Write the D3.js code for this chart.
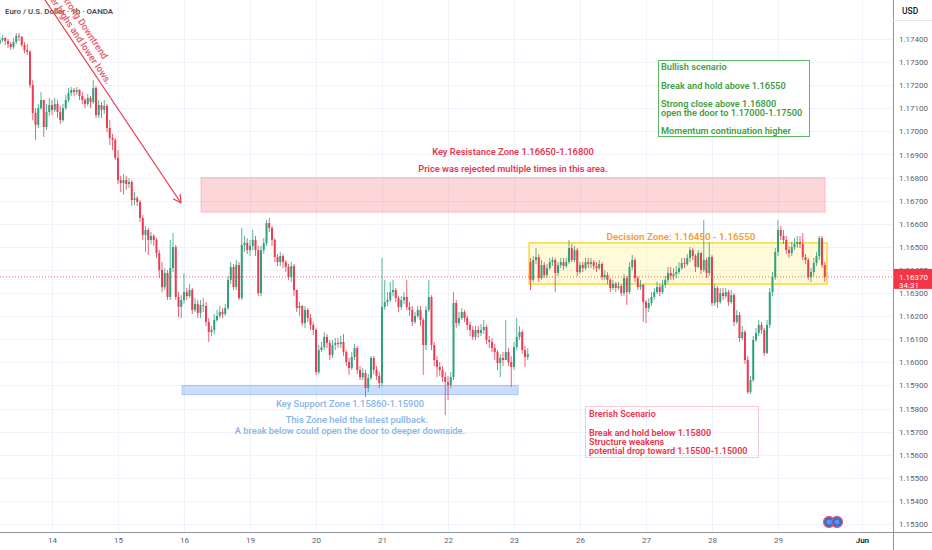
<!DOCTYPE html>
<html>
<head>
<meta charset="utf-8">
<script src="https://cdn.jsdelivr.net/npm/d3@7"></script>
<style>
  body { margin: 0; background: #fff; }
  svg { display: block; font-family: Roboto, "Open Sans", sans-serif; }
</style>
</head>
<body>
<div id="chart"></div>
<script>
// EUR/USD 1h candles (one value per hourly bar)
const closes = [
  1.17396, 1.17404, 1.17391, 1.17378, 1.17365, 1.17387, 1.17413, 1.17409, 1.17374, 1.17352,
  1.17344, 1.17201, 1.17080, 1.17028, 1.17101, 1.17136, 1.17019, 1.17084, 1.17114, 1.17093,
  1.17119, 1.17084, 1.17049, 1.17101, 1.17136, 1.17166, 1.17179, 1.17171, 1.17179, 1.17153,
  1.17136, 1.17119, 1.17145, 1.17127, 1.17188, 1.17071, 1.17114, 1.17093, 1.17110, 1.17015,
  1.16971, 1.16963, 1.16885, 1.16789, 1.16776, 1.16789, 1.16772, 1.16781, 1.16703, 1.16711,
  1.16694, 1.16625, 1.16551, 1.16573, 1.16530, 1.16547, 1.16530, 1.16473, 1.16400, 1.16326,
  1.16387, 1.16283, 1.16408, 1.16499, 1.16283, 1.16240, 1.16270, 1.16304, 1.16287, 1.16313,
  1.16227, 1.16253, 1.16214, 1.16248, 1.16244, 1.16175, 1.16131, 1.16140, 1.16183, 1.16201,
  1.16218, 1.16209, 1.16235, 1.16357, 1.16413, 1.16326, 1.16421, 1.16278, 1.16508, 1.16517,
  1.16486, 1.16504, 1.16530, 1.16486, 1.16300, 1.16486, 1.16517, 1.16603, 1.16582, 1.16530,
  1.16456, 1.16434, 1.16460, 1.16434, 1.16413, 1.16369, 1.16417, 1.16313, 1.16235, 1.16244,
  1.16170, 1.16227, 1.16192, 1.16162, 1.16140, 1.15958, 1.16053, 1.16066, 1.16110, 1.16084,
  1.16032, 1.16075, 1.16084, 1.16079, 1.16088, 1.16045, 1.16001, 1.15975, 1.16023, 1.16062,
  1.15967, 1.15936, 1.15954, 1.15889, 1.15932, 1.16019, 1.15967, 1.15941, 1.15910, 1.16240,
  1.16261, 1.16270, 1.16304, 1.16313, 1.16278, 1.16240, 1.16270, 1.16283, 1.16240, 1.16227,
  1.16175, 1.16201, 1.16227, 1.16183, 1.16075, 1.16227, 1.16283, 1.16075, 1.16010, 1.15980,
  1.15967, 1.15936, 1.15915, 1.15902, 1.15936, 1.16257, 1.16170, 1.16192, 1.16218, 1.16192,
  1.16162, 1.16140, 1.16110, 1.16140, 1.16127, 1.16140, 1.16153, 1.16097, 1.16088, 1.16062,
  1.16045, 1.15997, 1.16019, 1.16010, 1.16045, 1.16001, 1.15980, 1.16066, 1.16110, 1.16131,
  1.16053, 1.16023, 1.16036, 1.16357, 1.16443, 1.16456, 1.16365, 1.16421, 1.16378, 1.16408,
  1.16434, 1.16443, 1.16387, 1.16421, 1.16434, 1.16417, 1.16434, 1.16495, 1.16443, 1.16486,
  1.16391, 1.16421, 1.16408, 1.16434, 1.16426, 1.16434, 1.16417, 1.16408, 1.16426, 1.16369,
  1.16378, 1.16357, 1.16322, 1.16339, 1.16322, 1.16330, 1.16300, 1.16365, 1.16304, 1.16413,
  1.16443, 1.16365, 1.16326, 1.16335, 1.16261, 1.16235, 1.16257, 1.16283, 1.16304, 1.16326,
  1.16304, 1.16335, 1.16357, 1.16387, 1.16374, 1.16382, 1.16391, 1.16408, 1.16430, 1.16426,
  1.16452, 1.16486, 1.16460, 1.16413, 1.16473, 1.16400, 1.16443, 1.16387, 1.16456, 1.16257,
  1.16322, 1.16261, 1.16300, 1.16287, 1.16304, 1.16261, 1.16291, 1.16175, 1.16205, 1.16105,
  1.16131, 1.16010, 1.15871, 1.15923, 1.16097, 1.16127, 1.16162, 1.16140, 1.16040, 1.16162,
  1.16304, 1.16369, 1.16478, 1.16573, 1.16547, 1.16530, 1.16486, 1.16473, 1.16499, 1.16512,
  1.16521, 1.16512, 1.16456, 1.16443, 1.16369, 1.16391, 1.16430, 1.16460, 1.16538, 1.16421,
  1.16370
];

const highs = [
  1.17413, 1.17417, 1.17409, 1.17400, 1.17387, 1.17404, 1.17426, 1.17426, 1.17413, 1.17387,
  1.17378, 1.17352, 1.17222, 1.17101, 1.17119, 1.17171, 1.17136, 1.17119, 1.17145, 1.17136,
  1.17145, 1.17136, 1.17110, 1.17119, 1.17158, 1.17188, 1.17192, 1.17188, 1.17192, 1.17183,
  1.17171, 1.17145, 1.17162, 1.17153, 1.17222, 1.17196, 1.17136, 1.17127, 1.17136, 1.17119,
  1.17049, 1.16989, 1.16971, 1.16919, 1.16807, 1.16815, 1.16807, 1.16798, 1.16789, 1.16737,
  1.16720, 1.16703, 1.16638, 1.16590, 1.16582, 1.16564, 1.16556, 1.16538, 1.16486, 1.16434,
  1.16408, 1.16400, 1.16530, 1.16560, 1.16508, 1.16304, 1.16291, 1.16387, 1.16322, 1.16339,
  1.16322, 1.16278, 1.16270, 1.16270, 1.16278, 1.16261, 1.16192, 1.16157, 1.16209, 1.16227,
  1.16244, 1.16235, 1.16253, 1.16374, 1.16434, 1.16426, 1.16443, 1.16434, 1.16582, 1.16547,
  1.16538, 1.16530, 1.16573, 1.16547, 1.16504, 1.16504, 1.16538, 1.16616, 1.16625, 1.16590,
  1.16538, 1.16469, 1.16478, 1.16469, 1.16443, 1.16426, 1.16434, 1.16426, 1.16313, 1.16261,
  1.16248, 1.16244, 1.16235, 1.16209, 1.16175, 1.16149, 1.16075, 1.16088, 1.16131, 1.16123,
  1.16097, 1.16097, 1.16105, 1.16105, 1.16114, 1.16123, 1.16053, 1.16019, 1.16045, 1.16079,
  1.16071, 1.15984, 1.15975, 1.15967, 1.15949, 1.16027, 1.16027, 1.15984, 1.15958, 1.16452,
  1.16357, 1.16304, 1.16348, 1.16357, 1.16322, 1.16287, 1.16287, 1.16304, 1.16357, 1.16261,
  1.16244, 1.16218, 1.16244, 1.16244, 1.16192, 1.16244, 1.16357, 1.16291, 1.16088, 1.16027,
  1.16001, 1.15984, 1.15958, 1.15941, 1.15958, 1.16304, 1.16270, 1.16218, 1.16235, 1.16227,
  1.16201, 1.16175, 1.16157, 1.16157, 1.16157, 1.16166, 1.16183, 1.16162, 1.16114, 1.16105,
  1.16079, 1.16053, 1.16036, 1.16045, 1.16183, 1.16062, 1.16027, 1.16088, 1.16192, 1.16157,
  1.16140, 1.16071, 1.16062, 1.16452, 1.16460, 1.16495, 1.16469, 1.16443, 1.16434, 1.16426,
  1.16452, 1.16456, 1.16452, 1.16434, 1.16452, 1.16452, 1.16452, 1.16530, 1.16512, 1.16504,
  1.16495, 1.16434, 1.16434, 1.16452, 1.16452, 1.16452, 1.16443, 1.16434, 1.16443, 1.16434,
  1.16400, 1.16391, 1.16365, 1.16357, 1.16348, 1.16348, 1.16339, 1.16382, 1.16374, 1.16434,
  1.16465, 1.16452, 1.16374, 1.16357, 1.16339, 1.16270, 1.16278, 1.16304, 1.16322, 1.16348,
  1.16339, 1.16357, 1.16374, 1.16413, 1.16413, 1.16408, 1.16417, 1.16434, 1.16452, 1.16452,
  1.16469, 1.16499, 1.16495, 1.16469, 1.16486, 1.16478, 1.16616, 1.16452, 1.16521, 1.16465,
  1.16339, 1.16330, 1.16322, 1.16322, 1.16322, 1.16313, 1.16313, 1.16300, 1.16227, 1.16218,
  1.16157, 1.16140, 1.16027, 1.15941, 1.16114, 1.16149, 1.16183, 1.16175, 1.16149, 1.16183,
  1.16322, 1.16391, 1.16495, 1.16616, 1.16590, 1.16573, 1.16547, 1.16504, 1.16521, 1.16538,
  1.16547, 1.16547, 1.16560, 1.16469, 1.16452, 1.16408, 1.16452, 1.16478, 1.16547, 1.16547,
  1.16434
];

const lows = [
  1.17378, 1.17387, 1.17374, 1.17361, 1.17352, 1.17357, 1.17378, 1.17391, 1.17365, 1.17339,
  1.17331, 1.17188, 1.17049, 1.16963, 1.17015, 1.17093, 1.16976, 1.17006, 1.17067, 1.17071,
  1.17084, 1.17058, 1.17032, 1.17041, 1.17093, 1.17127, 1.17153, 1.17153, 1.17158, 1.17136,
  1.17119, 1.17101, 1.17110, 1.17101, 1.17119, 1.17058, 1.17058, 1.17058, 1.17075, 1.16997,
  1.16941, 1.16919, 1.16876, 1.16772, 1.16737, 1.16725, 1.16746, 1.16755, 1.16677, 1.16681,
  1.16677, 1.16608, 1.16530, 1.16478, 1.16465, 1.16512, 1.16504, 1.16452, 1.16365, 1.16304,
  1.16313, 1.16270, 1.16270, 1.16391, 1.16270, 1.16196, 1.16192, 1.16253, 1.16270, 1.16278,
  1.16209, 1.16218, 1.16192, 1.16192, 1.16218, 1.16157, 1.16088, 1.16114, 1.16123, 1.16175,
  1.16192, 1.16192, 1.16201, 1.16227, 1.16339, 1.16313, 1.16313, 1.16270, 1.16270, 1.16478,
  1.16469, 1.16460, 1.16486, 1.16460, 1.16287, 1.16287, 1.16469, 1.16504, 1.16564, 1.16504,
  1.16434, 1.16417, 1.16417, 1.16408, 1.16391, 1.16357, 1.16348, 1.16287, 1.16218, 1.16201,
  1.16157, 1.16149, 1.16175, 1.16140, 1.16118, 1.15945, 1.15949, 1.16045, 1.16053, 1.16062,
  1.16010, 1.16019, 1.16053, 1.16062, 1.16062, 1.16027, 1.15984, 1.15945, 1.15967, 1.16010,
  1.15949, 1.15923, 1.15923, 1.15850, 1.15871, 1.15923, 1.15949, 1.15923, 1.15889, 1.15897,
  1.16227, 1.16244, 1.16261, 1.16287, 1.16261, 1.16218, 1.16227, 1.16253, 1.16227, 1.16201,
  1.16157, 1.16166, 1.16192, 1.16157, 1.15945, 1.16053, 1.16218, 1.16053, 1.15984, 1.15936,
  1.15941, 1.15915, 1.15772, 1.15837, 1.15889, 1.15923, 1.16149, 1.16157, 1.16183, 1.16175,
  1.16140, 1.16114, 1.16097, 1.16097, 1.16105, 1.16114, 1.16123, 1.16079, 1.16062, 1.16045,
  1.16010, 1.15967, 1.15936, 1.15984, 1.16010, 1.15984, 1.15893, 1.15967, 1.16053, 1.16097,
  1.16036, 1.15980, 1.16010, 1.16313, 1.16348, 1.16426, 1.16348, 1.16357, 1.16365, 1.16365,
  1.16400, 1.16417, 1.16304, 1.16374, 1.16408, 1.16400, 1.16408, 1.16426, 1.16434, 1.16434,
  1.16374, 1.16382, 1.16391, 1.16400, 1.16408, 1.16408, 1.16400, 1.16391, 1.16400, 1.16357,
  1.16357, 1.16339, 1.16304, 1.16313, 1.16304, 1.16313, 1.16287, 1.16287, 1.16248, 1.16296,
  1.16400, 1.16348, 1.16313, 1.16313, 1.16175, 1.16170, 1.16218, 1.16244, 1.16270, 1.16296,
  1.16287, 1.16296, 1.16322, 1.16343, 1.16357, 1.16357, 1.16365, 1.16382, 1.16400, 1.16408,
  1.16417, 1.16434, 1.16443, 1.16391, 1.16408, 1.16382, 1.16391, 1.16365, 1.16374, 1.16244,
  1.16244, 1.16235, 1.16253, 1.16270, 1.16278, 1.16244, 1.16253, 1.16157, 1.16166, 1.16088,
  1.16097, 1.15993, 1.15863, 1.15863, 1.15915, 1.16088, 1.16114, 1.16123, 1.16027, 1.16036,
  1.16149, 1.16287, 1.16357, 1.16460, 1.16530, 1.16512, 1.16469, 1.16452, 1.16460, 1.16486,
  1.16495, 1.16495, 1.16443, 1.16426, 1.16357, 1.16348, 1.16374, 1.16417, 1.16443, 1.16408,
  1.16348
];

// bars where the open is not the previous close (first bar, weekend gap)
const sessionOpens = { 0: 1.17380, 193: 1.16434 };

const dayLabels = ["14", "15", "16", "19", "20", "21", "22", "23", "26", "27", "28", "29", "Jun"];
const dayBars = [19, 43, 67, 91, 115, 139, 163, 187, 211, 235, 259, 283, 313.5];

const priceTicks = [1.174, 1.173, 1.172, 1.171, 1.170, 1.169, 1.168, 1.167, 1.166, 1.165, 1.164,
  1.163, 1.162, 1.161, 1.160, 1.159, 1.158, 1.157, 1.156, 1.155, 1.154, 1.153];

const lastPrice = 1.16370;
const countdown = "34:31";

const resistance = [1.16650, 1.16800];
const decision = [1.16339, 1.16517];
const support = [1.15860, 1.15900];

const width = 932;
const height = 550;
const plotRight = 893;
const plotBottom = 532;
const upColor = "#2fa27c";
const downColor = "#ec3b52";

const svg = d3.select("#chart").append("svg")
    .attr("width", width)
    .attr("height", height);

const x = d3.scaleLinear().domain([0, 300]).range([-0.25, 824.75]);
const y = d3.scaleLinear().domain([1.153, 1.174]).range([524, 39]);

svg.append("defs").append("clipPath").attr("id", "plot")
    .append("rect").attr("width", plotRight).attr("height", plotBottom);

// grid
const grid = svg.append("g").attr("clip-path", "url(#plot)");
grid.selectAll(".hg").data(priceTicks).enter().append("line")
    .attr("x1", 0).attr("x2", plotRight)
    .attr("y1", d => Math.round(y(d)) + 0.5).attr("y2", d => Math.round(y(d)) + 0.5)
    .attr("stroke", "#f0f3fa");
grid.selectAll(".vg").data(dayBars).enter().append("line")
    .attr("y1", 0).attr("y2", plotBottom)
    .attr("x1", d => Math.round(x(d)) + 0.5).attr("x2", d => Math.round(x(d)) + 0.5)
    .attr("stroke", "#f0f3fa");

// zones (drawn under the candles)
const zones = svg.append("g").attr("clip-path", "url(#plot)");
zones.append("rect")
    .attr("x", x(73.2)).attr("width", x(300.1) - x(73.2))
    .attr("y", y(resistance[1])).attr("height", y(resistance[0]) - y(resistance[1]))
    .attr("fill", "rgba(242,54,69,0.2)").attr("stroke", "rgba(242,54,69,0.25)");
zones.append("rect")
    .attr("x", x(192.5)).attr("width", x(300.8) - x(192.5))
    .attr("y", y(decision[1])).attr("height", y(decision[0]) - y(decision[1]))
    .attr("fill", "rgba(255,235,59,0.2)").attr("stroke", "#f7d83c").attr("stroke-width", 1.5);
zones.append("rect")
    .attr("x", x(66.3)).attr("width", x(188.5) - x(66.3))
    .attr("y", y(support[1])).attr("height", y(support[0]) - y(support[1]))
    .attr("fill", "rgba(66,133,244,0.28)").attr("stroke", "rgba(66,133,244,0.35)");

// candles
const candles = closes.map(function(c, i) {
    const o = (i in sessionOpens) ? sessionOpens[i] : closes[i - 1];
    return { i: i, o: o, c: c, h: Math.max(highs[i], o, c), l: Math.min(lows[i], o, c) };
});

const bars = svg.append("g").attr("clip-path", "url(#plot)");
bars.selectAll(".wick").data(candles).enter().append("line")
    .attr("x1", d => x(d.i)).attr("x2", d => x(d.i))
    .attr("y1", d => y(d.h)).attr("y2", d => y(d.l))
    .attr("stroke", d => d.c >= d.o ? upColor : downColor)
    .attr("stroke-width", 0.8);
bars.selectAll(".body").data(candles).enter().append("rect")
    .attr("x", d => x(d.i) - 1)
    .attr("width", 2)
    .attr("y", d => y(Math.max(d.o, d.c)))
    .attr("height", d => Math.max(0.8, Math.abs(y(d.o) - y(d.c))))
    .attr("fill", d => d.c >= d.o ? upColor : downColor);

// last price line
svg.append("line")
    .attr("x1", 0).attr("x2", plotRight)
    .attr("y1", y(lastPrice)).attr("y2", y(lastPrice))
    .attr("stroke", "#f23645").attr("stroke-width", 0.8)
    .attr("stroke-dasharray", "1,2");

// axes frame
svg.append("line").attr("x1", plotRight + 0.5).attr("x2", plotRight + 0.5)
    .attr("y1", 0).attr("y2", height).attr("stroke", "#8f939c");
svg.append("line").attr("x1", 0).attr("x2", width)
    .attr("y1", plotBottom + 0.5).attr("y2", plotBottom + 0.5).attr("stroke", "#8f939c");
svg.append("line").attr("x1", plotRight).attr("x2", width)
    .attr("y1", 20.5).attr("y2", 20.5).attr("stroke", "#e6e8ee");

// price axis
const yAxis = svg.append("g")
    .attr("transform", "translate(" + plotRight + ",0)")
    .call(d3.axisRight(y).tickValues(priceTicks).tickFormat(d3.format(".5f")).tickSize(0).tickPadding(6));
yAxis.select(".domain").remove();
yAxis.selectAll("text").attr("fill", "#5d606b").style("font-size", "8px").style("font-family", "Roboto");

svg.append("text").attr("x", 902).attr("y", 14)
    .attr("fill", "#131722").style("font-size", "8.5px").style("font-weight", 500)
    .text("USD");

// date axis
const xAxis = svg.append("g")
    .attr("transform", "translate(0," + plotBottom + ")")
    .call(d3.axisBottom(x).tickValues(dayBars).tickFormat((d, i) => dayLabels[i]).tickSize(0).tickPadding(5));
xAxis.select(".domain").remove();
xAxis.selectAll("text").attr("fill", "#5d606b").style("font-size", "8px").style("font-family", "Roboto");
xAxis.selectAll("text").filter((d, i) => dayLabels[i] === "Jun").attr("fill", "#131722").style("font-weight", 600);

// last price tag
svg.append("rect").attr("x", plotRight + 1).attr("y", y(lastPrice) - 8)
    .attr("width", width - plotRight - 1).attr("height", 20).attr("fill", "#f23645");
svg.append("text").attr("x", 899).attr("y", y(lastPrice) + 3)
    .attr("fill", "#fff").style("font-size", "8px").text(d3.format(".5f")(lastPrice));
svg.append("text").attr("x", 899).attr("y", y(lastPrice) + 11)
    .attr("fill", "#fff").style("font-size", "8px").text(countdown);

// title
svg.append("text").attr("x", 5).attr("y", 14)
    .attr("fill", "#4a4d57").style("font-size", "7.9px").style("font-weight", 600)
    .text("Euro / U.S. Dollar · 1h · OANDA");

// downtrend arrow
const arrowStart = [45, 0];
const arrowEnd = [181, 203];
const angle = Math.atan2(arrowEnd[1] - arrowStart[1], arrowEnd[0] - arrowStart[0]);
const red = "#e8374f";
svg.append("line")
    .attr("x1", arrowStart[0]).attr("y1", arrowStart[1])
    .attr("x2", arrowEnd[0]).attr("y2", arrowEnd[1])
    .attr("stroke", red).attr("stroke-width", 1.2);
[-0.5, 0.5].forEach(function(a) {
    svg.append("line")
        .attr("x1", arrowEnd[0]).attr("y1", arrowEnd[1])
        .attr("x2", arrowEnd[0] - 9 * Math.cos(angle + a))
        .attr("y2", arrowEnd[1] - 9 * Math.sin(angle + a))
        .attr("stroke", red).attr("stroke-width", 1.2);
});
const trendText = svg.append("g")
    .attr("transform", "translate(" + arrowStart[0] + "," + arrowStart[1] + ") rotate(" + (angle * 180 / Math.PI) + ")")
    .attr("fill", "#e45a6c").style("font-size", "9.5px").style("font-weight", 500)
    .attr("text-anchor", "end");
trendText.append("text").attr("x", 82).attr("y", -15).text("Strong Downtrend");
trendText.append("text").attr("x", 105).attr("y", -4).text("lower highs and lower lows.");

// resistance labels
const resText = svg.append("g").attr("text-anchor", "middle")
    .attr("fill", "#e8374f").style("font-size", "9.3px").style("font-weight", 600);
resText.append("text").attr("x", 513).attr("y", 155).text("Key Resistance Zone 1.16650-1.16800");
resText.append("text").attr("x", 513).attr("y", 172).text("Price was rejected multiple times in this area.");

// decision label
svg.append("text").attr("x", 681).attr("y", 240).attr("text-anchor", "middle")
    .attr("fill", "#f39c33").style("font-size", "9.8px").style("font-weight", 600)
    .text("Decision Zone: 1.16450 - 1.16550");

// support labels
const supportText = svg.append("g").attr("text-anchor", "middle")
    .attr("fill", "#86b5ea").style("font-size", "9.3px").style("font-weight", 500);
supportText.append("text").attr("x", 350).attr("y", 407).text("Key Support Zone 1.15860-1.15900");
supportText.append("text").attr("x", 357).attr("y", 423).text("This Zone held the latest pullback.");
supportText.append("text").attr("x", 350).attr("y", 434).text("A break below could open the door to deeper downside.");

// bearish scenario box
svg.append("rect").attr("x", 585.5).attr("y", 406.5).attr("width", 173).attr("height", 51)
    .attr("fill", "none").attr("stroke", "#f8c9cf");
const bearText = svg.append("g").attr("fill", "#ee3149").style("font-size", "9px").style("font-weight", 600);
[["Brerish Scenario", 417], ["Break and hold below 1.15800", 436], ["Structure weakens", 445],
 ["potential drop toward 1.15500-1.15000", 454]].forEach(function(t) {
    bearText.append("text").attr("x", 589).attr("y", t[1]).text(t[0]);
});

// bullish scenario box
svg.append("rect").attr("x", 658.5).attr("y", 60.5).attr("width", 151).attr("height", 76)
    .attr("fill", "#fff").attr("stroke", "#5cb85f");
const bullText = svg.append("g").attr("fill", "#3f9e45").style("font-size", "9.2px").style("font-weight", 600);
[["Bullish scenario", 70], ["Break and hold above 1.16550", 89], ["Strong close above 1.16800", 107],
 ["open the door to 1.17000-1.17500", 116], ["Momentum continuation higher", 134]].forEach(function(t) {
    bullText.append("text").attr("x", 661).attr("y", t[1]).text(t[0]);
});

// event markers near the time axis
[829, 837].forEach(function(cx) {
    svg.append("circle").attr("cx", cx).attr("cy", 522).attr("r", 5.5)
        .attr("fill", "#2f6fd6").attr("stroke", "#f4566a").attr("stroke-width", 1.3);
    svg.append("circle").attr("cx", cx).attr("cy", 522).attr("r", 2.5).attr("fill", "#5b93e6");
});
</script>
</body>
</html>
